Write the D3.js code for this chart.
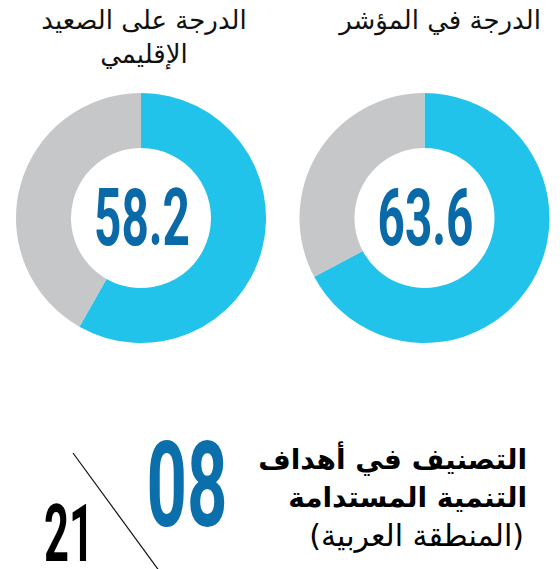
<!DOCTYPE html>
<html>
<head>
<meta charset="utf-8">
<script src="https://cdn.jsdelivr.net/npm/d3@7"></script>
<style>
  body { margin: 0; background: #fff; }
</style>
</head>
<body>
<div id="chart"></div>
<script>
// DATA
var titles = [
    ["الدرجة على الصعيد", "الإقليمي"],
    ["الدرجة في المؤشر"]
];
var scores = [58.2, 63.6];
// share of the ring filled in blue, as drawn in the picture
var ringShares = [58.2, 67.2];
var rankLines = ["التصنيف في أهداف", "التنمية المستدامة", "(المنطقة العربية)"];
var rank = "08";
var rankTotal = "21";

var width = 560,
    height = 569;

var svg = d3.select("#chart").append("svg")
    .attr("width", width)
    .attr("height", height);

var colors = d3.scaleOrdinal(["score", "rest"], ["#22c3ea", "#c6c7c9"]);
var numColor = "#0a6aa8";

var cx = d3.scalePoint().domain(d3.range(scores.length)).range([141, 424.5]);
var cy = 218;

var pie = d3.pie().sort(null).value(d => d.value);
var arc = d3.arc().innerRadius(70).outerRadius(125);

// squeeze a text to a given width (condensed look)
function fit(sel, w) {
    sel.each(function() {
        var t = d3.select(this);
        var bw = this.getBBox().width;
        var tr = t.attr("data-t");
        t.attr("transform", tr + " scale(" + (w / bw) + ",1)");
    });
}

scores.forEach(function(s, i) {
    var g = svg.append("g")
        .attr("transform", "translate(" + cx(i) + "," + cy + ")");

    g.selectAll("path")
        .data(pie([{key: "score", value: ringShares[i]}, {key: "rest", value: 100 - ringShares[i]}]))
        .join("path")
        .attr("d", arc)
        .attr("fill", d => colors(d.data.key));

    g.append("text")
        .attr("data-t", "translate(1,27)")
        .attr("text-anchor", "middle")
        .style("font", "bold 79px Roboto")
        .attr("fill", numColor)
        .text(s.toFixed(1))
        .call(fit, 96);
});

// titles
var titleX = [144, 440];
titles.forEach(function(lines, i) {
    svg.append("g").selectAll("text")
        .data(lines)
        .join("text")
        .attr("x", titleX[i])
        .attr("y", (d, j) => 29 + j * 34)
        .attr("text-anchor", "middle")
        .attr("direction", "rtl")
        .style("font", "26px 'DejaVu Sans'")
        .attr("fill", "#111")
        .text(d => d);
});

// ranking block
svg.append("line")
    .attr("x1", 73).attr("y1", 453)
    .attr("x2", 160).attr("y2", 572)
    .attr("stroke", "#111")
    .attr("stroke-width", 1.2);

svg.append("text")
    .attr("data-t", "translate(69,561)")
    .attr("text-anchor", "middle")
    .style("font", "bold 79px Roboto")
    .attr("fill", "#000")
    .text(rankTotal)
    .call(fit, 50);

svg.append("text")
    .attr("data-t", "translate(187,526)")
    .attr("text-anchor", "middle")
    .style("font", "bold 118px Roboto")
    .attr("fill", "#0b6fab")
    .text(rank)
    .call(fit, 81);

svg.append("g").selectAll("text")
    .data(rankLines)
    .join("text")
    .attr("x", (d, j) => j < 2 ? 527 : 524)
    .attr("y", (d, j) => [469, 507, 546][j])
    .attr("text-anchor", "start")
    .attr("direction", "rtl")
    .style("font", (d, j) => j < 2 ? "bold 28px 'DejaVu Sans'" : "30px 'DejaVu Sans'")
    .attr("fill", "#000")
    .text(d => d);
</script>
</body>
</html>
